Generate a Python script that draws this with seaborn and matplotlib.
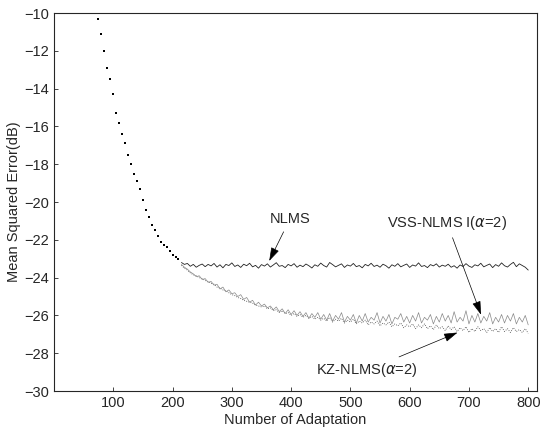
import matplotlib
matplotlib.use("Agg")
import matplotlib.pyplot as plt
import seaborn as sns
import numpy as np
import pandas as pd

# shared transient part (all three algorithms overlap here)
transient_iters = list(range(75, 215, 5))
transient_mse = [-10.3, -11.1, -12.0, -12.9, -13.5, -14.3, -15.3, -15.8, -16.4, -16.9,
                 -17.5, -18.0, -18.5, -18.9, -19.3, -19.9, -20.4, -20.8, -21.2, -21.5,
                 -21.8, -22.1, -22.3, -22.4, -22.6, -22.8, -22.9, -23.0]

steady_iters = list(range(215, 805, 5))
nlms = [-23.2, -23.3, -23.25, -23.4, -23.3, -23.45, -23.35, -23.28, -23.42, -23.3,
        -23.38, -23.25, -23.44, -23.32, -23.48, -23.3, -23.36, -23.22, -23.41, -23.33,
        -23.46, -23.29, -23.37, -23.24, -23.43, -23.35, -23.5, -23.31, -23.39, -23.27,
        -23.44, -23.33, -23.21, -23.4, -23.36, -23.47, -23.3, -23.38, -23.26, -23.45,
        -23.34, -23.42, -23.28, -23.37, -23.49, -23.32, -23.4, -23.23, -23.36, -23.44,
        -23.2, -23.31, -23.43, -23.35, -23.27, -23.46, -23.33, -23.39, -23.25, -23.42,
        -23.36, -23.48, -23.3, -23.38, -23.24, -23.41, -23.34, -23.45, -23.29, -23.37,
        -23.5, -23.32, -23.4, -23.26, -23.43, -23.35, -23.28, -23.46, -23.33, -23.39,
        -23.22, -23.41, -23.36, -23.47, -23.31, -23.38, -23.27, -23.44, -23.34, -23.4,
        -23.29, -23.45, -23.37, -23.5, -23.33, -23.41, -23.26, -23.39, -23.46, -23.32,
        -23.38, -23.24, -23.43, -23.35, -23.28, -23.47, -23.31, -23.4, -23.22, -23.37,
        -23.44, -23.3, -23.19, -23.42, -23.27, -23.36, -23.45, -23.6]
vss_nlms = [-23.3, -23.45, -23.55, -23.7, -23.8, -23.95, -23.9, -24.1, -24.05, -24.25,
            -24.2, -24.4, -24.35, -24.6, -24.5, -24.75, -24.65, -24.85, -24.8, -25.0,
            -24.9, -25.15, -25.05, -25.3, -25.2, -25.45, -25.3, -25.5, -25.4, -25.6,
            -25.5, -25.7, -25.55, -25.8, -25.65, -25.9, -25.7, -25.95, -25.75, -26.0,
            -25.8, -26.05, -25.85, -26.15, -25.9, -26.1, -25.85, -26.2, -25.95, -26.25,
            -25.9, -26.3, -26.0, -26.2, -25.85, -26.35, -26.05, -26.25, -25.95, -26.4,
            -26.0, -26.3, -25.9, -26.35, -26.1, -26.25, -25.85, -26.4, -26.05, -26.3,
            -25.95, -26.45, -26.1, -26.2, -25.9, -26.35, -26.05, -26.4, -26.0, -26.3,
            -25.85, -26.4, -26.1, -26.25, -25.95, -26.45, -26.05, -26.35, -25.9, -26.3,
            -26.0, -26.4, -25.8, -26.35, -26.1, -26.3, -25.75, -26.45, -26.0, -26.35,
            -25.9, -26.4, -26.05, -26.3, -25.85, -26.45, -26.1, -26.35, -25.95, -26.4,
            -26.0, -26.3, -25.9, -26.45, -26.1, -26.35, -26.0, -26.5]
kz_nlms = [-23.35, -23.5, -23.6, -23.75, -23.85, -23.9, -24.0, -24.05, -24.15, -24.2,
           -24.3, -24.35, -24.5, -24.55, -24.65, -24.7, -24.8, -24.9, -24.95, -25.05,
           -25.1, -25.2, -25.25, -25.3, -25.35, -25.45, -25.5, -25.55, -25.5, -25.65,
           -25.6, -25.75, -25.7, -25.85, -25.75, -25.9, -25.85, -26.0, -25.9, -26.05,
           -25.95, -26.1, -26.0, -26.15, -26.05, -26.2, -26.1, -26.25, -26.15, -26.3,
           -26.1, -26.35, -26.2, -26.3, -26.15, -26.4, -26.25, -26.35, -26.2, -26.45,
           -26.3, -26.4, -26.25, -26.5, -26.35, -26.45, -26.3, -26.55, -26.4, -26.5,
           -26.35, -26.6, -26.45, -26.55, -26.4, -26.65, -26.5, -26.6, -26.45, -26.7,
           -26.5, -26.65, -26.45, -26.7, -26.55, -26.75, -26.5, -26.7, -26.6, -26.8,
           -26.55, -26.75, -26.6, -26.85, -26.65, -26.8, -26.6, -26.9, -26.7, -26.85,
           -26.6, -26.8, -26.7, -26.9, -26.65, -26.85, -26.7, -26.9, -26.6, -26.85,
           -26.7, -26.9, -26.65, -26.85, -26.75, -26.9, -26.7, -26.95]

y_ticks = [-10, -12, -14, -16, -18, -20, -22, -24, -26, -28, -30]
x_ticks = [100, 200, 300, 400, 500, 600, 700, 800]

sns.set_style("ticks")
plt.rcParams['font.family'] = ['Liberation Sans', 'DejaVu Sans']

fig = plt.figure(figsize=(5.42, 4.34), dpi=100)
ax = fig.add_axes([0.0996, 0.099, 0.8914, 0.871])

df = pd.DataFrame({'iter': steady_iters, 'NLMS': nlms, 'VSS': vss_nlms, 'KZ': kz_nlms})

sns.scatterplot(x=transient_iters, y=transient_mse, ax=ax, color='black', s=4,
                marker='s', linewidth=0)
sns.lineplot(data=df, x='iter', y='KZ', ax=ax, color='#444444', lw=0.6, ls=':')
sns.lineplot(data=df, x='iter', y='VSS', ax=ax, color='#888888', lw=0.5)
sns.lineplot(data=df, x='iter', y='NLMS', ax=ax, color='#222222', lw=0.6)

ax.set_xlim(0, 815)
ax.set_ylim(-30, -10)
ax.set_xticks(x_ticks)
ax.set_yticks(y_ticks)
ax.tick_params(direction='in', labelsize=10.5, length=3, width=0.6)
for s in ax.spines.values():
    s.set_linewidth(0.8)

ax.set_xlabel('Number of Adaptation', fontsize=10.5, labelpad=2)
ax.set_ylabel('Mean Squared Error(dB)', fontsize=10.5, labelpad=2)

arrow = dict(arrowstyle='-|>,head_length=0.8,head_width=0.25', color='black', lw=0.5)
ax.annotate('NLMS', xy=(361, -23.25), xytext=(398, -20.9), fontsize=10.5,
            ha='center', va='center', arrowprops=arrow)
ax.annotate(r'VSS-NLMS I($\alpha$=2)', xy=(722, -26.1), xytext=(663, -21.1),
            fontsize=10.5, ha='center', va='center', arrowprops=arrow)
ax.annotate(r'KZ-NLMS($\alpha$=2)', xy=(685, -26.85), xytext=(528, -28.9),
            fontsize=10.5, ha='center', va='center', arrowprops=arrow)

fig.savefig('out.png', dpi=100)
